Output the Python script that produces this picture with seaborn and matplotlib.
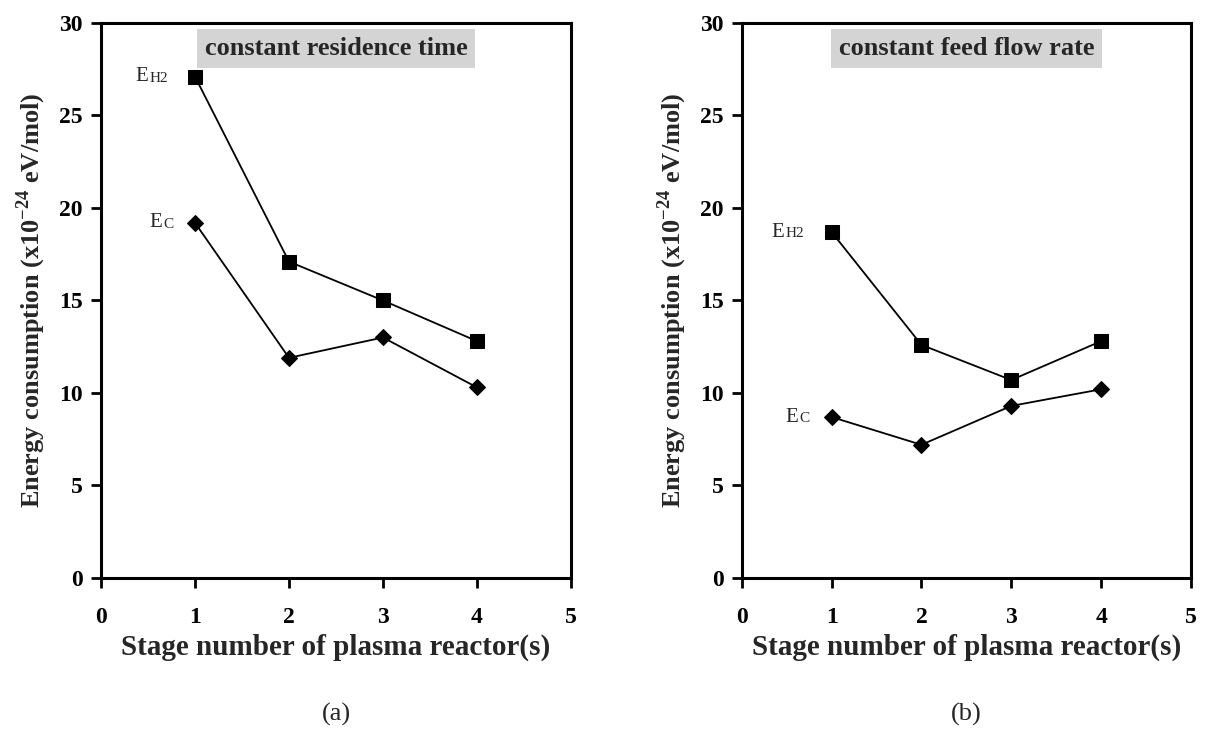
import numpy as np
import pandas as pd
import matplotlib
matplotlib.use("Agg")
import matplotlib.pyplot as plt
import seaborn as sns

# ── Data ───────────────────────────────────────────────────────────────────────
STAGES = [1, 2, 3, 4]

# (a) constant residence time
EH2_RES = [27.1, 17.1, 15.0, 12.8]
EC_RES  = [19.2, 11.9, 13.0, 10.3]

# (b) constant feed flow rate
EH2_FEED = [18.7, 12.6, 10.7, 12.8]
EC_FEED  = [8.7, 7.2, 9.3, 10.2]

PANELS = [
    ("constant residence time", EH2_RES, EC_RES, "(a)"),
    ("constant feed flow rate", EH2_FEED, EC_FEED, "(b)"),
]

sns.set_theme(style="ticks")
plt.rcParams["font.family"] = ["Liberation Serif", "DejaVu Serif"]
plt.rcParams["mathtext.fontset"] = "custom"
plt.rcParams["mathtext.rm"] = "Liberation Serif"
plt.rcParams["mathtext.bf"] = "Liberation Serif:bold"

fig = plt.figure(figsize=(12.24, 7.41), dpi=100)
axes = [
    fig.add_axes([0.0825, 0.22, 0.384, 0.749]),
    fig.add_axes([0.606, 0.22, 0.367, 0.749]),
]

for ax, (title, eh2, ec, tag) in zip(axes, PANELS):
    df = pd.DataFrame({"stage": STAGES, "EH2": eh2, "EC": ec})
    sns.lineplot(data=df, x="stage", y="EH2", ax=ax, color="black",
                 marker="s", markersize=10, linewidth=1.3,
                 markeredgecolor="black")
    sns.lineplot(data=df, x="stage", y="EC", ax=ax, color="black",
                 marker="D", markersize=8, linewidth=1.3,
                 markeredgecolor="black")

    ax.set_xlim(0, 5)
    ax.set_ylim(0, 30)
    ax.set_xticks(range(0, 6))
    ax.set_yticks(range(0, 31, 5))
    for s in ax.spines.values():
        s.set_visible(True)
        s.set_linewidth(2.2)
        s.set_color("black")
    ax.tick_params(direction="out", length=7, width=2, colors="black",
                   labelsize=17, pad=6)
    for lab in ax.get_xticklabels() + ax.get_yticklabels():
        lab.set_fontweight("bold")
    ax.tick_params(axis="x", pad=14)

    ax.set_xlabel("Stage number of plasma reactor(s)", fontsize=21,
                  fontweight="bold", labelpad=4)
    ax.set_ylabel(r"Energy consumption (x10$^{\mathbf{-24}}$ eV/mol)",
                  fontsize=19, fontweight="bold", labelpad=8)

    ax.text(2.5, 28.6, title, ha="center", va="center", fontsize=19,
            fontweight="bold",
            bbox=dict(boxstyle="square,pad=0.3", facecolor="#d4d4d4",
                      edgecolor="none"))

    # series labels next to the first points
    for yval, sub in ((eh2[0], "H2"), (ec[0], "C")):
        ax.annotate("E", xy=(1, yval), xytext=(-43 if sub == "H2" else -33, 0),
                    textcoords="offset points", ha="left", va="center",
                    fontsize=15)
        ax.annotate(sub, xy=(1, yval), xytext=(-33 if sub == "H2" else -23, -1),
                    textcoords="offset points", ha="left", va="center",
                    fontsize=11)

    ax.text(0.5, -0.245, tag, transform=ax.transAxes, ha="center",
            va="center", fontsize=19)

fig.savefig("out.png", dpi=100, facecolor="white")
